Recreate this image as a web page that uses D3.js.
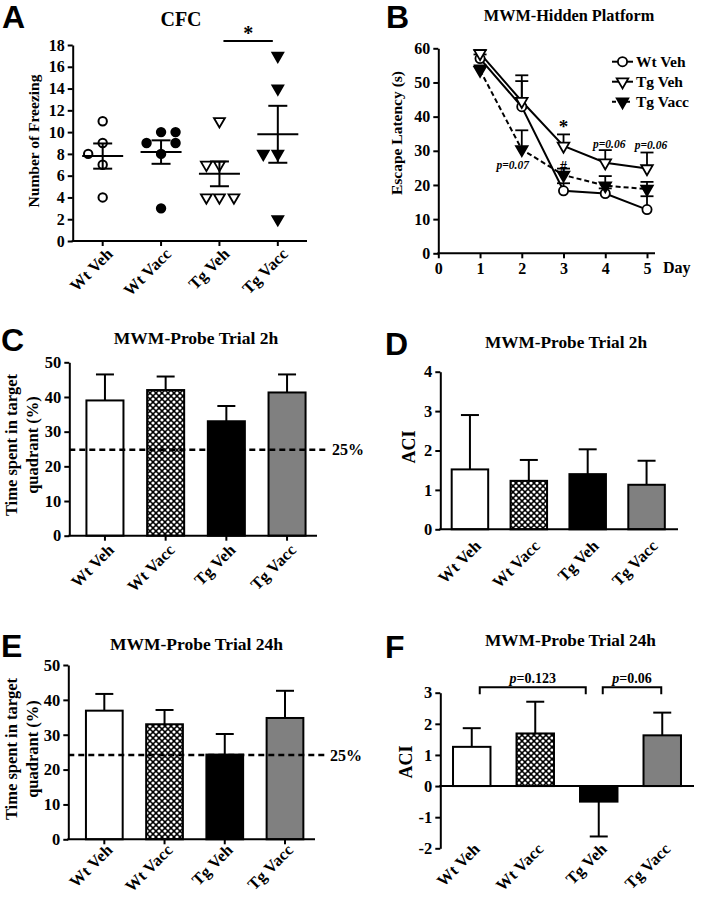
<!DOCTYPE html>
<html>
<head>
<meta charset="utf-8">
<script src="https://cdn.jsdelivr.net/npm/d3@7"></script>
<style>
  body { margin: 0; background: #fff; }
  svg text { font-family: "Liberation Serif", "Times New Roman", serif; font-weight: bold; fill: #000; }
</style>
</head>
<body>
<svg id="fig" width="702" height="899"></svg>
<script>
// ---- data ----
const groups = ["Wt Veh", "Wt Vacc", "Tg Veh", "Tg Vacc"];

// A: CFC, individual animals
const cfcPoints = [[11, 9, 8, 7, 4], [10, 10, 9, 9, 8, 3], [11, 7, 7, 4, 4, 4], [17, 14, 8, 8, 2]];
const cfcJitter = [[0, 0, -1, 0, 0], [0, 1, -1, 1, 0, 0], [0, -0.9, 0, -0.9, 0, 1], [0, 0, -1, 0, 0]];

// B: hidden platform
const days = [1, 2, 3, 4, 5];
const wtVehLatency = [57, 42.9, 18.3, 17.5, 12.8];
const wtVehSem = [1.2, 7.5, 2.2, 1.5, 3.9];
const tgVehLatency = [58.5, 44.5, 31.4, 26.5, 24.8];
const tgVehSem = [1, 7.6, 3.4, 3.7, 4.7];
const tgVaccLatency = [53.6, 30.4, 22.9, 19.8, 18.8];
const tgVaccSem = [1.4, 5.6, 1.9, 2.8, 2.1];
const dayTicks = [0, 1, 2, 3, 4, 5];

// C-F: probe trials
const probe2hPct = [39, 42, 33, 41.3];
const probe2hPctSem = [7.5, 3.9, 4.4, 5.2];
const probe2hAci = [1.52, 1.23, 1.4, 1.13];
const probe2hAciSem = [1.38, 0.53, 0.63, 0.61];
const probe24hPct = [36.9, 33, 24.3, 34.8];
const probe24hPctSem = [4.8, 4.1, 5.9, 7.8];
const probe24hAci = [1.26, 1.69, -0.5, 1.63];
const probe24hAciSem = [0.6, 1.02, 1.12, 0.73];
const chance2h = 24.8, chance24h = 24.2;

// ---- drawing ----
const svg = d3.select("#fig");
const serif = "'Liberation Serif', 'Times New Roman', serif";
const defs = svg.append("defs");
const pat = defs.append("pattern").attr("id", "hatch")
  .attr("width", 6).attr("height", 6).attr("patternUnits", "userSpaceOnUse");
pat.append("rect").attr("width", 6).attr("height", 6).attr("fill", "#000");
[[0, 0], [6, 0], [0, 6], [6, 6], [3, 3]].forEach(([x, y]) =>
  pat.append("circle").attr("cx", x).attr("cy", y).attr("r", 1.6).attr("fill", "#fff"));

const barFills = ["#fff", "url(#hatch)", "#000", "#808080"];
const intFmt = d => String(d);

function styleAxis(g, fs) {
  g.attr("font-family", null).attr("font-size", null);
  g.selectAll("path,line").attr("stroke", "#000").attr("stroke-width", 2);
  g.selectAll("text").attr("fill", "#000").style("font-family", serif)
    .style("font-weight", "bold").style("font-size", fs + "px");
}

function letter(t, x, y) {
  svg.append("text").attr("x", x).attr("y", y).text(t)
    .style("font-family", "'Liberation Sans', Arial, sans-serif").style("font-size", "32px");
}
function title(t, x, y, fs) {
  svg.append("text").attr("x", x).attr("y", y).attr("text-anchor", "middle").text(t).style("font-size", fs + "px");
}
function yLabel(lines, x, y, fs) {
  const t = svg.append("text").attr("transform", `translate(${x},${y}) rotate(-90)`)
    .attr("text-anchor", "middle").style("font-size", fs + "px");
  lines.forEach((l, i) => t.append("tspan").attr("x", 0).attr("dy", i ? "1.3em" : 0).text(l));
}
function catLabels(xs, baseY, dx) {
  groups.forEach(gname => {
    const cx = xs(gname) + xs.bandwidth() / 2;
    svg.append("text").attr("transform", `translate(${cx + dx},${baseY}) rotate(-45)`)
      .attr("text-anchor", "end").attr("dy", "0.35em").text(gname).style("font-size", "16.5px");
  });
}

// ===== A =====
{
  const x = d3.scaleBand().domain(groups).range([73.5, 307]);
  const y = d3.scaleLinear().domain([0, 18]).range([241, 45]);
  svg.append("g").attr("transform", "translate(72.7,0)")
    .call(d3.axisLeft(y).tickValues(d3.range(0, 19, 2)).tickFormat(intFmt).tickSize(5).tickSizeOuter(0))
    .call(styleAxis, 16);
  const xa = svg.append("g").attr("transform", "translate(0,241)")
    .call(d3.axisBottom(x).tickSize(5).tickFormat(""));
  xa.select(".domain").remove();
  styleAxis(xa, 15);
  svg.append("line").attr("x1", 71.7).attr("x2", 307).attr("y1", 241).attr("y2", 241)
    .attr("stroke", "#000").attr("stroke-width", 2);
  catLabels(x, 251, 7);

  const tri = d3.symbol(d3.symbolTriangle, 52)();
  groups.forEach((gname, gi) => {
    const cx = x(gname) + x.bandwidth() / 2;
    const vals = cfcPoints[gi];
    const m = d3.mean(vals), sem = d3.deviation(vals) / Math.sqrt(vals.length);
    const g = svg.append("g");
    vals.forEach((v, i) => {
      const px = cx + cfcJitter[gi][i] * 14.5, py = y(v);
      const filled = gi % 2 === 1;
      if (gi < 2) {
        g.append("circle").attr("cx", px).attr("cy", py).attr("r", 4.2)
          .attr("fill", filled ? "#000" : "#fff").attr("stroke", "#000").attr("stroke-width", 2);
      } else {
        g.append("path").attr("d", tri).attr("transform", `translate(${px},${py}) rotate(180)`)
          .attr("fill", filled ? "#000" : "#fff").attr("stroke", "#000").attr("stroke-width", 1.8);
      }
    });
    const line = (x1, x2, y1, y2) => svg.append("line").attr("x1", x1).attr("x2", x2).attr("y1", y1).attr("y2", y2)
      .attr("stroke", "#000").attr("stroke-width", 2);
    line(cx - 20.5, cx + 20.5, y(m), y(m));
    line(cx, cx, y(m - sem), y(m + sem));
    line(cx - 9.5, cx + 9.5, y(m + sem), y(m + sem));
    line(cx - 9.5, cx + 9.5, y(m - sem), y(m - sem));
  });
  const a = x("Tg Veh") + x.bandwidth() / 2 + 4, b = x("Tg Vacc") + x.bandwidth() / 2 - 5;
  svg.append("line").attr("x1", a).attr("x2", b).attr("y1", 41).attr("y2", 41).attr("stroke", "#000").attr("stroke-width", 2);
  svg.append("text").attr("x", (a + b) / 2).attr("y", 40).attr("text-anchor", "middle").text("*").style("font-size", "20px");
  letter("A", 2, 28);
  title("CFC", 181, 25.5, 20);
  yLabel(["Number of Freezing"], 39, 141, 15.5);
}

// ===== B =====
{
  const x = d3.scaleLinear().domain([0, 5]).range([438.3, 647]);
  const y = d3.scaleLinear().domain([0, 60]).range([253.3, 48.3]);
  svg.append("g").attr("transform", "translate(438.3,0)")
    .call(d3.axisLeft(y).ticks(6).tickFormat(intFmt).tickSize(5).tickSizeOuter(0))
    .call(styleAxis, 16);
  const xa = svg.append("g").attr("transform", "translate(0,253.3)")
    .call(d3.axisBottom(x).tickValues(dayTicks).tickFormat(intFmt).tickSize(5).tickPadding(4));
  xa.select(".domain").remove();
  styleAxis(xa, 16);
  svg.append("line").attr("x1", 437.3).attr("x2", 655).attr("y1", 253.3).attr("y2", 253.3)
    .attr("stroke", "#000").attr("stroke-width", 2);
  svg.append("text").attr("x", 663).attr("y", 273).text("Day").style("font-size", "16px");

  const series = [
    { name: "Wt Veh", vals: wtVehLatency, sem: wtVehSem, dash: null, marker: "circle", fill: "#fff" },
    { name: "Tg Veh", vals: tgVehLatency, sem: tgVehSem, dash: null, marker: "tri", fill: "#fff" },
    { name: "Tg Vacc", vals: tgVaccLatency, sem: tgVaccSem, dash: "5,3", marker: "tri", fill: "#000" }
  ];
  const tri = d3.symbol(d3.symbolTriangle, 58)();
  const drawMarker = (g, s, px, py) => {
    if (s.marker === "circle") {
      g.append("circle").attr("cx", px).attr("cy", py).attr("r", 4.6)
        .attr("fill", s.fill).attr("stroke", "#000").attr("stroke-width", 1.8);
    } else {
      g.append("path").attr("d", tri).attr("transform", `translate(${px},${py}) rotate(180)`)
        .attr("fill", s.fill).attr("stroke", "#000").attr("stroke-width", 1.8);
    }
  };
  const ln = d3.line().x((d, i) => x(days[i])).y(d => y(d));
  series.forEach(s => {
    svg.append("path").datum(s.vals).attr("d", ln).attr("fill", "none")
      .attr("stroke", "#000").attr("stroke-width", 2).attr("stroke-dasharray", s.dash);
  });
  series.forEach(s => {
    s.vals.forEach((v, i) => {
      const px = x(days[i]);
      svg.append("line").attr("x1", px).attr("x2", px).attr("y1", y(v)).attr("y2", y(v + s.sem[i]))
        .attr("stroke", "#000").attr("stroke-width", 1.8);
      svg.append("line").attr("x1", px - 6.5).attr("x2", px + 6.5).attr("y1", y(v + s.sem[i])).attr("y2", y(v + s.sem[i]))
        .attr("stroke", "#000").attr("stroke-width", 1.8);
    });
  });
  series.forEach(s => {
    const g = svg.append("g");
    s.vals.forEach((v, i) => drawMarker(g, s, x(days[i]), y(v)));
  });
  // legend
  series.forEach((s, i) => {
    const ly = 61.7 + i * 20;
    svg.append("line").attr("x1", 612).attr("x2", 633).attr("y1", ly).attr("y2", ly)
      .attr("stroke", "#000").attr("stroke-width", 2).attr("stroke-dasharray", s.dash ? "4,3" : null);
    drawMarker(svg, s, 622.5, ly);
    svg.append("text").attr("x", 636).attr("y", ly).attr("dy", "0.35em").text(s.name).style("font-size", "15.5px");
  });
  // annotations
  const note = (t, px, py, fs, it) => svg.append("text").attr("x", px).attr("y", py).attr("text-anchor", "middle")
    .text(t).style("font-size", fs + "px").style("font-style", it ? "italic" : null).attr("fill", "#333");
  note("*", x(3), 133, 19, false);
  note("#", x(3), 171, 14, false);
  note("p=0.06", x(4) + 4, 148, 11.5, true);
  note("p=0.06", x(5) + 4, 149, 11.5, true);
  note("p=0.07", x(2) - 9, 169, 11.5, true);
  letter("B", 386, 28);
  title("MWM-Hidden Platform", 569, 21, 16.3);
  yLabel(["Escape Latency (s)"], 402, 133, 15.5);
}

// ===== bar panels =====
function barPanel(o) {
  const x = d3.scaleBand().domain(groups).range(o.xr).paddingInner(o.pad).paddingOuter(o.pad / 2);
  const y = d3.scaleLinear().domain(o.dom).range(o.yr);
  svg.append("g").attr("transform", `translate(${o.ax},0)`)
    .call(d3.axisLeft(y).tickValues(o.ticks).tickFormat(intFmt).tickSize(5).tickSizeOuter(0))
    .call(styleAxis, 16.5);
  const y0 = y(0);
  if (o.xTicks) {
    const xa = svg.append("g").attr("transform", `translate(0,${y0})`)
      .call(d3.axisBottom(x).tickSize(5).tickFormat(""));
    xa.select(".domain").remove();
    styleAxis(xa, 15);
  }
  groups.forEach((gname, i) => {
    const v = o.vals[i], e = o.sem[i];
    const top = v >= 0 ? y(v) : y0;
    const h = Math.abs(y(v) - y0);
    const cx = x(gname) + x.bandwidth() / 2;
    const tip = v >= 0 ? v + e : v - e;
    svg.append("line").attr("x1", cx).attr("x2", cx).attr("y1", y(v)).attr("y2", y(tip))
      .attr("stroke", "#000").attr("stroke-width", 2);
    svg.append("line").attr("x1", cx - 9).attr("x2", cx + 9).attr("y1", y(tip)).attr("y2", y(tip))
      .attr("stroke", "#000").attr("stroke-width", 2);
    svg.append("rect").attr("x", x(gname)).attr("y", top).attr("width", x.bandwidth()).attr("height", h)
      .attr("fill", barFills[i]).attr("stroke", "#000").attr("stroke-width", 2);
  });
  svg.append("line").attr("x1", o.ax - 1).attr("x2", o.xEnd).attr("y1", y0).attr("y2", y0)
    .attr("stroke", "#000").attr("stroke-width", 2);
  if (o.chance != null) {
    svg.append("line").attr("x1", o.ax).attr("x2", o.xEnd + 11).attr("y1", y(o.chance)).attr("y2", y(o.chance))
      .attr("stroke", "#000").attr("stroke-width", 2.5).attr("stroke-dasharray", "6,4");
    svg.append("text").attr("x", o.xEnd + 15).attr("y", y(o.chance)).attr("dy", "0.35em").text("25%").style("font-size", "16px");
  }
  catLabels(x, o.labY, o.labDx);
  return { x, y };
}

// C
barPanel({ vals: probe2hPct, sem: probe2hPctSem, dom: [0, 50], yr: [535.7, 362.3], xr: [74.6, 317.4], pad: 0.39,
  ax: 69.3, xEnd: 317, ticks: d3.range(0, 51, 10), chance: chance2h, xTicks: true, labY: 547, labDx: 6 });
letter("C", 1, 351);
title("MWM-Probe Trial 2h", 196, 343.5, 17.5);
yLabel(["Time spent in target", "quadrant (%)"], 17, 445, 16.5);

// D
barPanel({ vals: probe2hAci, sem: probe2hAciSem, dom: [0, 4], yr: [529.3, 371.7], xr: [440.5, 676], pad: 0.38,
  ax: 440.3, xEnd: 678, ticks: d3.range(0, 5), chance: null, xTicks: false, labY: 543, labDx: 8 });
letter("D", 385, 355);
title("MWM-Probe Trial 2h", 566, 347.5, 17.3);
yLabel(["ACI"], 415, 447, 18);

// E
barPanel({ vals: probe24hPct, sem: probe24hPctSem, dom: [0, 50], yr: [839.3, 665], xr: [74.2, 315.1], pad: 0.39,
  ax: 68.3, xEnd: 315, ticks: d3.range(0, 51, 10), chance: chance24h, xTicks: true, labY: 847, labDx: 5 });
letter("E", 1, 657);
title("MWM-Probe Trial 24h", 196.5, 650, 17.5);
yLabel(["Time spent in target", "quadrant (%)"], 17, 749, 16.5);

// F
{
  const s = barPanel({ vals: probe24hAci, sem: probe24hAciSem, dom: [-2, 3], yr: [848.3, 692.7], xr: [440, 694], pad: 0.41,
    ax: 440.3, xEnd: 694, ticks: d3.range(-2, 4), chance: null, xTicks: false, labY: 846, labDx: 5 });
  const cx = g => s.x(g) + s.x.bandwidth() / 2;
  const brackets = [
    { a: cx("Wt Veh") + 8, b: cx("Tg Veh") - 13, p: "0.123" },
    { a: cx("Tg Veh") + 4, b: cx("Tg Vacc") - 1, p: "0.06" }
  ];
  brackets.forEach(br => {
    const by = 687.3;
    svg.append("path").attr("d", `M${br.a},${by + 7}V${by}H${br.b}V${by + 7}`)
      .attr("fill", "none").attr("stroke", "#000").attr("stroke-width", 2);
    const t = svg.append("text").attr("x", (br.a + br.b) / 2).attr("y", by - 4).attr("text-anchor", "middle")
      .style("font-size", "14px");
    t.append("tspan").style("font-style", "italic").text("p");
    t.append("tspan").text("=" + br.p);
  });
  letter("F", 385, 658);
  title("MWM-Probe Trial 24h", 570.5, 646, 17.3);
  yLabel(["ACI"], 412, 762, 18);
}
</script>
</body>
</html>
